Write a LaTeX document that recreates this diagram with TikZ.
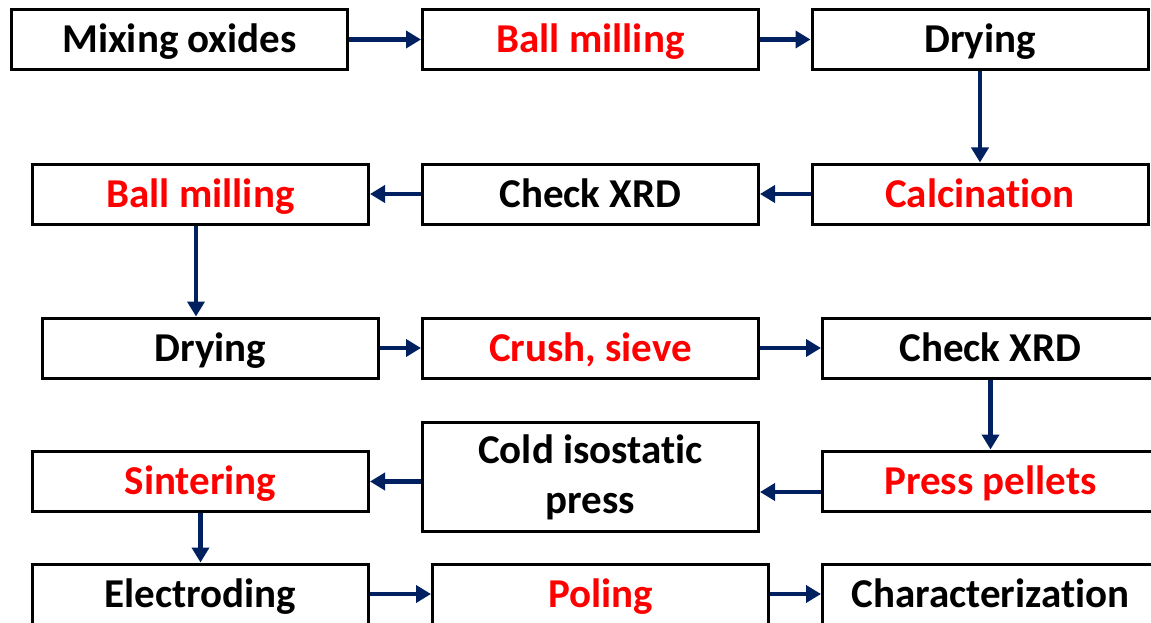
\documentclass[tikz,border=0pt]{standalone}
\usepackage{fontspec}
\setmainfont{Carlito}[Ligatures=NoCommon]
\usetikzlibrary{arrows.meta,calc}
\definecolor{navy}{RGB}{0,32,96}
\definecolor{hot}{RGB}{255,0,0}
\begin{document}
\begin{tikzpicture}[x=1pt,y=-1pt,
  card/.style={draw=black, line width=3pt, fill=white, inner sep=0pt,
    minimum width=336pt, minimum height=60pt,
    font=\fontsize{41}{50}\selectfont\bfseries},
  oneline/.style={card, text height=26.5pt, text depth=0pt},
  key/.style={text=hot},
  conn/.style={draw=navy, line width=4.5pt, -{Triangle[length=15pt,width=17pt]}}]
  \useasboundingbox (0,0) rectangle (1151,623);
  \clip (0,0) rectangle (1151,623);
  \fill[white] (0,0) rectangle (1151,623);

  % row 1
  \node[oneline] (mix) at (179.5,39.5) {Mixing oxides};
  \node[oneline,key] (mill1) at (590.5,39.5) {Ball milling};
  \node[oneline] (dry1) at (980,39.5) {Drying};
  % row 2
  \node[oneline,key] (calc) at (980,194) {Calcination};
  \node[oneline] (xrd1) at (590.5,194) {Check XRD};
  \node[oneline,key] (mill2) at (200.5,194) {Ball milling};
  % row 3
  \node[oneline] (dry2) at (210.5,348) {Drying};
  \node[oneline,key] (crush) at (590.5,348) {Crush, sieve};
  \node[oneline] (xrd2) at (990.5,348) {Check XRD};
  % row 4
  \node[oneline,key] (press) at (990.5,481) {Press pellets};
  \node[card, minimum height=109pt, align=center] (cip) at (590.5,477) {Cold isostatic\\press};
  \node[oneline,key] (sinter) at (200.5,481.5) {Sintering};
  % row 5
  \node[oneline] (elec) at (200.5,594) {Electroding};
  \node[oneline,key] (pole) at (600.5,594) {Poling};
  \node[oneline] (char) at (990.5,594) {Characterization};

  % process flow
  \draw[conn] (mix) -- (mill1);
  \draw[conn] (mill1) -- (dry1);
  \draw[conn] (dry1) -- (calc);
  \draw[conn] (calc) -- (xrd1);
  \draw[conn] (xrd1) -- (mill2);
  \coordinate (drop) at ($(mill2.south)+(-4.5,0)$);
  \draw[conn] (drop) -- (drop |- dry2.north);
  \draw[conn] (dry2) -- (crush);
  \draw[conn] (crush) -- (xrd2);
  \draw[conn] (xrd2) -- (press);
  \coordinate (pout) at ($(press.west)+(0,11)$);
  \draw[conn] (pout) -- (pout -| cip.east);
  \draw[conn] (cip.west |- sinter.east) -- (sinter.east);
  \draw[conn] (sinter) -- (elec);
  \draw[conn] (elec) -- (pole);
  \draw[conn] (pole) -- (char);
\end{tikzpicture}
\end{document}
